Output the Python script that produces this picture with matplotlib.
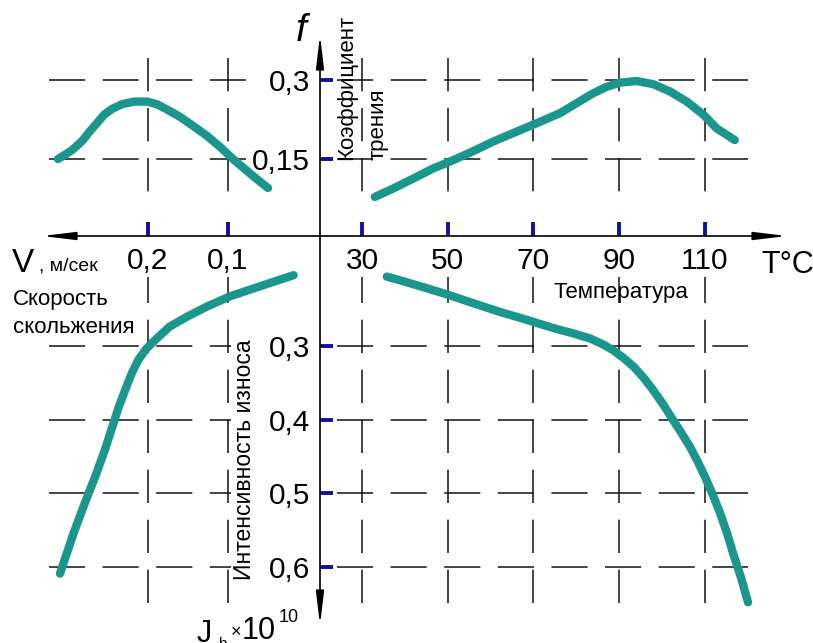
import matplotlib
matplotlib.use("Agg")
import matplotlib.pyplot as plt

plt.rcParams['font.family'] = ['Liberation Sans', 'DejaVu Sans']
plt.rcParams['lines.scale_dashes'] = False

# Friction coefficient f versus sliding speed V, m/s
speed_f = [0.3125, 0.3038, 0.295, 0.2875, 0.2813, 0.2725, 0.2638, 0.255,
           0.245, 0.2325, 0.2175, 0.2013, 0.1888, 0.175, 0.16, 0.1438,
           0.1263, 0.11, 0.0938, 0.0775, 0.0625, 0.05]
friction_v = [0.150, 0.158, 0.167, 0.177, 0.186, 0.203, 0.218, 0.234,
              0.245, 0.254, 0.259, 0.259, 0.254, 0.243, 0.230, 0.213,
              0.194, 0.173, 0.150, 0.129, 0.110, 0.095]

# Friction coefficient f versus temperature T, °C
temp_f = [33.0, 37.3, 42.0, 46.6, 50.5, 55.2, 60.6, 66.1, 70.8, 76.2, 80.1,
          84.0, 87.1, 90.2, 94.1, 98.0, 101.9, 105.8, 109.7, 112.8, 117.0]
friction_t = [0.078, 0.094, 0.113, 0.132, 0.145, 0.162, 0.183, 0.202, 0.218,
              0.237, 0.256, 0.275, 0.287, 0.295, 0.298, 0.292, 0.278, 0.259,
              0.234, 0.208, 0.186]

# Wear intensity J (x1e10) versus sliding speed V
speed_j = [0.018, 0.043, 0.068, 0.098, 0.127, 0.152, 0.173, 0.189, 0.202,
           0.212, 0.2205, 0.2285, 0.2365, 0.2445, 0.254, 0.266, 0.279, 0.293,
           0.310]
wear_v = [0.203, 0.212, 0.221, 0.232, 0.246, 0.260, 0.273, 0.289, 0.303,
          0.318, 0.337, 0.359, 0.382, 0.409, 0.441, 0.477, 0.513, 0.554,
          0.609]

# Wear intensity J (x1e10) versus temperature T
temp_j = [35.8, 38.9, 44.7, 50.3, 56.4, 62.2, 66.9, 70.8, 75.3, 79.2, 83.2,
          86.2, 88.6, 91.1, 93.5, 95.8, 97.9, 100.2, 102.6, 104.7, 106.6,
          108.4, 110.1, 111.9, 113.6, 115.2, 116.6, 118.5, 120.1]
wear_t = [0.205, 0.210, 0.220, 0.230, 0.242, 0.253, 0.261, 0.268, 0.276,
          0.282, 0.289, 0.297, 0.305, 0.316, 0.328, 0.343, 0.359, 0.378,
          0.400, 0.419, 0.437, 0.457, 0.478, 0.502, 0.527, 0.554, 0.581,
          0.615, 0.648]

speed_ticks = [0.2, 0.1]
speed_labels = ['0,2', '0,1']
temp_ticks = [30, 50, 70, 90, 110]
temp_labels = ['30', '50', '70', '90', '110']
friction_ticks = [0.3, 0.15]
friction_labels = ['0,3', '0,15']
wear_ticks = [0.3, 0.4, 0.5, 0.6]
wear_labels = ['0,3', '0,4', '0,5', '0,6']

TEAL = '#1a968d'
BLUE = '#1010a0'
INK = '#111111'

W, H = 813, 643
fig = plt.figure(figsize=(W / 100, H / 100), dpi=100)
fig.patch.set_facecolor('white')

X_LEFT, X_ORIGIN, X_RIGHT = 42, 320, 787
Y_TOP, Y_ORIGIN, Y_BOTTOM = 35, 236, 625


def box(x0, y0, x1, y1):
    """Axes placed by a pixel box measured from the top-left corner."""
    ax = fig.add_axes([x0 / W, 1 - y1 / H, (x1 - x0) / W, (y1 - y0) / H])
    ax.patch.set_visible(False)
    for s in ax.spines.values():
        s.set_visible(False)
    ax.set_xticks([])
    ax.set_yticks([])
    return ax


ax_tl = box(X_LEFT, Y_TOP, X_ORIGIN, Y_ORIGIN)
ax_tr = box(X_ORIGIN, Y_TOP, X_RIGHT, Y_ORIGIN)
ax_bl = box(X_LEFT, Y_ORIGIN, X_ORIGIN, Y_BOTTOM)
ax_br = box(X_ORIGIN, Y_ORIGIN, X_RIGHT, Y_BOTTOM)

SPEED_LIM = (0.3325, -0.015)
TEMP_LIM = (20.2, 129.2)
FRICTION_LIM = (0.0038, 0.3854)
WEAR_LIM = (0.6789, 0.1497)
for ax in (ax_tl, ax_bl):
    ax.set_xlim(*SPEED_LIM)
for ax in (ax_tr, ax_br):
    ax.set_xlim(*TEMP_LIM)
for ax in (ax_tl, ax_tr):
    ax.set_ylim(*FRICTION_LIM)
for ax in (ax_bl, ax_br):
    ax.set_ylim(*WEAR_LIM)

# dashed construction grid
GRID = dict(color=INK, lw=1.1, solid_capstyle='butt', dash_capstyle='butt')
HDASH = (26, 12.6)
VDASH = (24, 12)


def hgrid(ax, values, a0, a1):
    for v in values:
        ax.plot([a0, a1], [v, v], transform=ax.get_yaxis_transform(),
                dashes=HDASH, **GRID)


def vgrid(ax, values, a0, a1):
    for v in values:
        ax.plot([v, v], [a0, a1], transform=ax.get_xaxis_transform(),
                dashes=VDASH, **GRID)


hgrid(ax_tl, friction_ticks, 0.025, 0.737)
hgrid(ax_tr, friction_ticks, 0.036, 0.9165)
hgrid(ax_bl, wear_ticks, 0.025, 0.680)
hgrid(ax_br, wear_ticks, 0.036, 0.9165)
vgrid(ax_tl, speed_ticks, 0.886, 0.179)
vgrid(ax_tr, temp_ticks, 0.886, 0.179)
vgrid(ax_bl, speed_ticks, 0.057, 0.895)
vgrid(ax_br, temp_ticks, 0.057, 0.895)

# blue ticks on the axes with their value labels
TICK = dict(direction='in', color=BLUE, labelsize=21.5, labelcolor='black')
ax_tl.set_xticks(speed_ticks, speed_labels)
ax_tl.tick_params(axis='x', length=10, width=2.8, pad=8, **TICK)
ax_tr.set_xticks(temp_ticks, temp_labels)
ax_tr.tick_params(axis='x', length=10, width=2.8, pad=8, **TICK)
ax_tr.set_yticks(friction_ticks, friction_labels)
ax_tr.tick_params(axis='y', length=9.5, width=2.8, pad=7, **TICK)
ax_br.set_yticks(wear_ticks, wear_labels)
ax_br.tick_params(axis='y', length=9.5, width=2.8, pad=7, **TICK)

# the four characteristic curves
CURVE = dict(color=TEAL, lw=6, solid_capstyle='round',
             solid_joinstyle='round', clip_on=False, zorder=5)
ax_tl.plot(speed_f, friction_v, **CURVE)
ax_tr.plot(temp_f, friction_t, **CURVE)
ax_bl.plot(speed_j, wear_v, **CURVE)
ax_br.plot(temp_j, wear_t, **CURVE)

# main axes with arrows at both ends
ARROW = dict(arrowstyle='<|-|>,head_length=2.0,head_width=0.24',
             color='black', lw=1.2, shrinkA=0, shrinkB=0)
fig.add_artist(matplotlib.patches.FancyArrowPatch(
    (X_LEFT, H - Y_ORIGIN), (X_RIGHT, H - Y_ORIGIN),
    transform=None, mutation_scale=10, **ARROW))
fig.add_artist(matplotlib.patches.FancyArrowPatch(
    (X_ORIGIN, H - Y_TOP), (X_ORIGIN, H - Y_BOTTOM),
    transform=None, mutation_scale=10, **ARROW))


def label(x, y, s, **kw):
    fig.text(x / W, 1 - y / H, s, **kw)


label(301, 31, 'f', style='italic', fontsize=28, ha='center', va='center')
label(347, 160, 'Коэффициент', rotation=90, fontsize=16, ha='center', va='bottom')
label(378, 160, 'трения', rotation=90, fontsize=16, ha='center', va='bottom')
label(12, 272, 'V', fontsize=24, ha='left', va='baseline')
label(39, 271, ', м/сек', fontsize=14, ha='left', va='baseline')
label(13, 305, 'Скорость', fontsize=16, ha='left', va='baseline')
label(13, 333, 'скольжения', fontsize=16, ha='left', va='baseline')
label(553, 298, 'Температура', fontsize=16, ha='left', va='baseline')
label(244, 580, 'Интенсивность износа', rotation=90, fontsize=16.5,
      ha='center', va='bottom')
label(761, 273, 'T°C', fontsize=22, ha='left', va='baseline')
label(197, 642, 'J', fontsize=22, ha='left', va='baseline')
label(219, 648, 'h', fontsize=11, ha='left', va='baseline')
label(231, 637, '×', fontsize=13, ha='left', va='baseline')
label(242, 639, '10', fontsize=22, ha='left', va='baseline')
label(279, 622, '10', fontsize=13, ha='left', va='baseline')

fig.savefig('out.png', dpi=100, facecolor='white')
